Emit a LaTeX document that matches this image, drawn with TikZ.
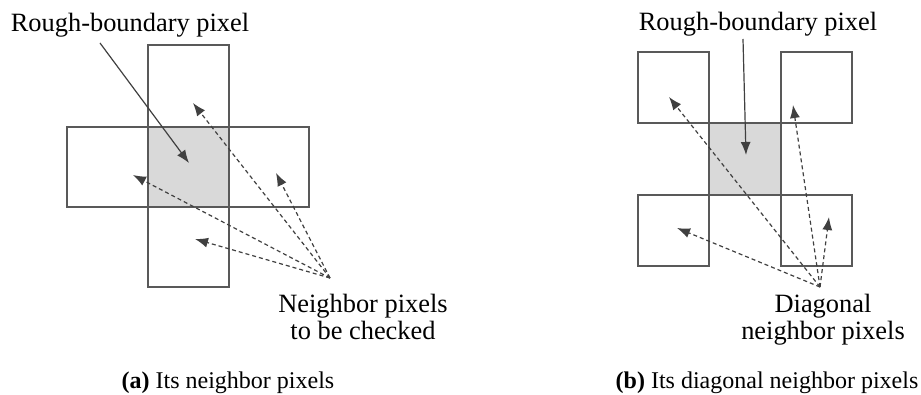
\documentclass[tikz,border=0pt]{standalone}
\usepackage{fontspec}
\setmainfont{Liberation Serif}
\usetikzlibrary{arrows.meta}
\tikzset{
pixbox/.style={draw=black!65,line width=0.6pt},
roughpix/.style={pixbox,fill=black!15},
pointer/.style={draw=black!75,line width=0.6pt,-{Latex[length=6.5pt,width=5pt]}},
checkline/.style={pointer,dash pattern=on 2pt off 1.5pt},
lbl/.style={font=\fontsize{13.2}{13.5}\selectfont,align=center,inner sep=0pt,anchor=base},
subcap/.style={font=\fontsize{12}{14}\selectfont,inner sep=0pt,anchor=base}
}
\begin{document}
\begin{tikzpicture}[x=0.5pt,y=-0.5pt]
\useasboundingbox(0,0)rectangle(921,395);
\fill[black!15](148,127)rectangle(229,207);
\draw[pixbox](148,45)rectangle(229,287);
\draw[pixbox](67,127)rectangle(309,207);
\node[lbl](roughA) at (130,32){Rough-boundary pixel};
\node[lbl](checkA) at (363,340){Neighbor pixels\\to be checked};
\node[subcap](capA) at (228,388){\textbf{(a)} Its neighbor pixels};
\coordinate(roughAfoot) at (100,43);
\coordinate(centA) at (189,163);
\coordinate(fromA) at (330,278);
\coordinate(upA) at (193,103);
\coordinate(leftA) at (133,175);
\coordinate(rightA) at (276,173);
\coordinate(downA) at (195,239);
\draw[pointer](roughAfoot)--(centA);
\foreach \t in {upA,leftA,rightA,downA}
\draw[checkline](fromA)--(\t);
\begin{scope}
\draw[roughpix](709,123)rectangle(781,195);
\draw[pixbox](638,52)rectangle(709,123);
\draw[pixbox](781,52)rectangle(852,123);
\draw[pixbox](638,195)rectangle(709,266);
\draw[pixbox](781,195)rectangle(852,266);
\node[lbl](roughB) at (758,31){Rough-boundary pixel};
\node[lbl](checkB) at (823,340){Diagonal\\neighbor pixels};
\node[subcap](capB) at (767,388){\textbf{(b)} Its diagonal neighbor pixels};
\coordinate(roughBfoot) at (743,39);
\coordinate(centB) at (746,155);
\coordinate(fromB) at (820,287);
\coordinate(ulB) at (669,97);
\coordinate(urB) at (793,105);
\coordinate(dlB) at (677,228);
\coordinate(drB) at (829,217);
\draw[pointer](roughBfoot)--(centB);
\foreach \t in {ulB,urB,dlB,drB}
\draw[checkline](fromB)--(\t);
\end{scope}
\end{tikzpicture}
\end{document}
